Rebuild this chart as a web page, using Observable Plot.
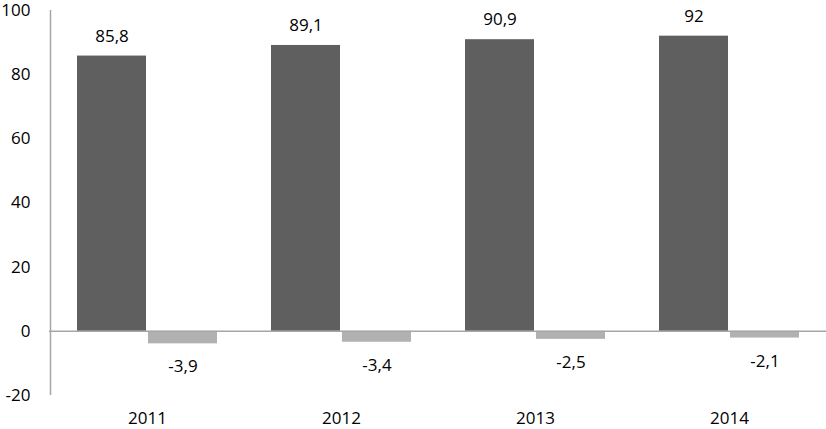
<!DOCTYPE html>
<html><head><meta charset="utf-8">
<script src="https://cdn.jsdelivr.net/npm/d3@7"></script>
<script src="https://cdn.jsdelivr.net/npm/@observablehq/plot@0.6"></script>
<style>body{margin:0;background:#fff;} svg{display:block;}</style>
</head><body><div id="chart"></div>
<script>
const years = ["2011", "2012", "2013", "2014"];
const seriesA = [85.8, 89.1, 90.9, 92];
const seriesB = [-3.9, -3.4, -2.5, -2.1];
const yTicks = [-20, 0, 20, 40, 60, 80, 100];

const fmt = v => String(v).replace(".", ",");
const dataA = years.map((y, i) => ({year: y, value: seriesA[i]}));
const dataB = years.map((y, i) => ({year: y, value: seriesB[i]}));

const font = "'Open Sans', sans-serif";
const plot = Plot.plot({
  width: 826, height: 429,
  marginLeft: 49, marginRight: 0, marginTop: 10, marginBottom: 34,
  style: {fontFamily: font, fontSize: "17px", color: "#000", background: "#fff"},
  x: {domain: years, padding: 0, label: null, tickSize: 0, tickPadding: 16},
  y: {domain: [-20, 100], ticks: yTicks, label: null, tickSize: 0, tickPadding: 19, tickFormat: d => String(d)},
  marks: [
    Plot.barY(dataA, {x: "year", y: "value", fill: "#5f5f5f", insetLeft: 27, insetRight: 98}),
    Plot.barY(dataB, {x: "year", y: "value", fill: "#b1b1b1", insetLeft: 98, insetRight: 27}),
    Plot.ruleY([0], {stroke: "#a6a6a6", strokeWidth: 1.5}),
    Plot.ruleX([0], {x: () => years[0], y1: -20, y2: 100, stroke: "#a6a6a6", strokeWidth: 1.5, dx: -97}),
    Plot.text(dataA, {x: "year", y: "value", text: d => fmt(d.value), dx: -35.5, dy: -20, fill: "#000"}),
    Plot.text(dataB, {x: "year", y: "value", text: d => fmt(d.value), dx: 35.5, dy: 23, fill: "#000"})
  ]
});
document.getElementById("chart").appendChild(plot);
</script>
</body></html>
